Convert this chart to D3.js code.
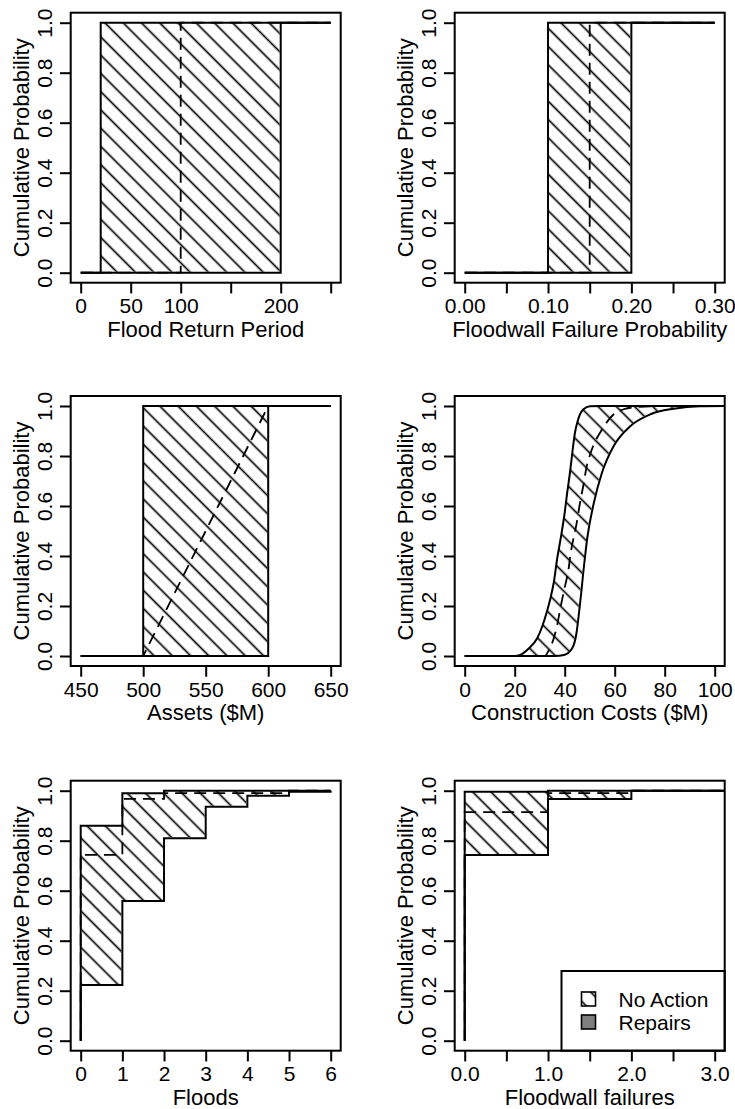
<!DOCTYPE html>
<html>
<head>
<meta charset="utf-8">
<script src="https://cdn.jsdelivr.net/npm/d3@7"></script>
<style>
body { margin: 0; background: #fff; }
svg { display: block; }
</style>
</head>
<body>
<svg id="chart" width="735" height="1109"></svg>
<script>
// step CDFs as [x, p] pairs (p holds from x onwards)
var returnUpper = [[0, 0], [20, 1], [250, 1]];
var returnLower = [[0, 0], [200, 1], [250, 1]];
var returnMid = [[0, 0], [100, 1], [250, 1]];

var wallUpper = [[0, 0], [0.10, 1], [0.30, 1]];
var wallLower = [[0, 0], [0.20, 1], [0.30, 1]];
var wallMid = [[0, 0], [0.15, 1], [0.30, 1]];

var assetsUpper = [[450, 0], [500, 1], [650, 1]];
var assetsLower = [[450, 0], [600, 1], [650, 1]];
var assetsMid = [[450, 0], [500, 0], [600, 1], [650, 1]];

// smooth CDFs for construction costs
var costUpper = [[0, 0], [20, 0], [22.2, 0.004], [25.7, 0.031], [29, 0.071], [31, 0.118],
    [32.7, 0.171], [34.3, 0.231], [35.7, 0.298], [37, 0.39], [38.3, 0.465], [39.8, 0.559],
    [41, 0.653], [42.1, 0.733], [43.2, 0.826], [44.1, 0.893], [45.4, 0.947], [47.5, 0.987],
    [50.1, 0.999], [54, 1], [104, 1]];
var costLower = [[0, 0], [36, 0], [39.7, 0.004], [43, 0.031], [44.7, 0.091], [45.7, 0.171],
    [46.6, 0.251], [47.4, 0.332], [48.3, 0.412], [49, 0.47], [49.8, 0.52], [51.6, 0.61],
    [54.9, 0.733], [59.6, 0.84], [66.3, 0.92], [74.3, 0.967], [83.6, 0.989], [94, 0.999], [104, 1]];
var costMid = [[0, 0], [32, 0], [33.5, 0.02], [35.4, 0.064], [37, 0.124], [38.4, 0.198],
    [40.1, 0.278], [41.5, 0.345], [42.4, 0.412], [43.4, 0.465], [44.8, 0.532], [46.1, 0.612],
    [47.4, 0.679], [48.8, 0.759], [50.3, 0.81], [52.3, 0.86], [54.9, 0.906], [58.9, 0.96],
    [63.6, 0.987], [70, 0.997], [80, 1], [104, 1]];

var floodsUpper = [[0, 0], [0, 0.86], [1, 0.99], [2, 1], [6, 1]];
var floodsLower = [[0, 0], [0, 0.223], [1, 0.559], [2, 0.81], [3, 0.936], [4, 0.98], [5, 0.996], [6, 1]];
var floodsMid = [[0, 0], [0, 0.743], [1, 0.967], [2, 0.99], [5, 1], [6, 1]];

var failUpper = [[0, 0], [0, 0.996], [1, 1], [3.12, 1]];
var failLower = [[0, 0], [0, 0.743], [1, 0.967], [2, 1], [3.12, 1]];
var failMid = [[0, 0], [0, 0.914], [1, 0.99], [2, 1], [3.12, 1]];

var probTicks = [0, 0.2, 0.4, 0.6, 0.8, 1];
var probLabels = ["0.0", "0.2", "0.4", "0.6", "0.8", "1.0"];

var legendLabels = ["No Action", "Repairs"];
var repairsColor = "#7f7f7f";

var font = "'Liberation Sans', Arial, sans-serif";

var panels = [
    {col: 0, row: 0, domain: [0, 250], ticks: [0, 50, 100, 150, 200, 250],
     labels: ["0", "50", "100", "", "200", ""], title: "Flood Return Period",
     upper: returnUpper, lower: returnLower, mid: returnMid, curve: d3.curveStepAfter, midCurve: d3.curveStepAfter},
    {col: 1, row: 0, domain: [0, 0.3], ticks: [0, 0.05, 0.1, 0.15, 0.2, 0.25, 0.3],
     labels: ["0.00", "", "0.10", "", "0.20", "", "0.30"], title: "Floodwall Failure Probability",
     upper: wallUpper, lower: wallLower, mid: wallMid, curve: d3.curveStepAfter, midCurve: d3.curveStepAfter},
    {col: 0, row: 1, domain: [450, 650], ticks: [450, 500, 550, 600, 650],
     labels: ["450", "500", "550", "600", "650"], title: "Assets ($M)",
     upper: assetsUpper, lower: assetsLower, mid: assetsMid, curve: d3.curveStepAfter, midCurve: d3.curveLinear},
    {col: 1, row: 1, domain: [0, 100], ticks: [0, 20, 40, 60, 80, 100],
     labels: ["0", "20", "40", "60", "80", "100"], title: "Construction Costs ($M)",
     upper: costUpper, lower: costLower, mid: costMid, curve: d3.curveMonotoneX, midCurve: d3.curveMonotoneX},
    {col: 0, row: 2, domain: [0, 6], ticks: [0, 1, 2, 3, 4, 5, 6],
     labels: ["0", "1", "2", "3", "4", "5", "6"], title: "Floods",
     upper: floodsUpper, lower: floodsLower, mid: floodsMid, curve: d3.curveStepAfter, midCurve: d3.curveStepAfter},
    {col: 1, row: 2, domain: [0, 3], ticks: [0, 0.5, 1, 1.5, 2, 2.5, 3],
     labels: ["0.0", "", "1.0", "", "2.0", "", "3.0"], title: "Floodwall failures",
     upper: failUpper, lower: failLower, mid: failMid, curve: d3.curveStepAfter, midCurve: d3.curveStepAfter, legend: true}
];

var boxLeft = [70.7, 454.7],
    boxTop = [12.7, 396, 780.7],
    boxSize = 270,
    pad = 10;

var svg = d3.select("#chart");
var defs = svg.append("defs");

var hatch = defs.append("pattern")
    .attr("id", "hatch")
    .attr("patternUnits", "userSpaceOnUse")
    .attr("width", 12.9)
    .attr("height", 12.9)
    .attr("patternTransform", "rotate(-45)");
hatch.append("line")
    .attr("x1", 6.45).attr("y1", -1)
    .attr("x2", 6.45).attr("y2", 14)
    .attr("stroke", "#000")
    .attr("stroke-width", 1.7);

panels.forEach(function(p, i) {
    var bx = boxLeft[p.col],
        by = boxTop[p.row];

    var x = d3.scaleLinear()
        .domain(p.domain)
        .range([bx + pad, bx + boxSize - pad]);

    var y = d3.scaleLinear()
        .domain([0, 1])
        .range([by + boxSize - pad, by + pad]);

    defs.append("clipPath")
        .attr("id", "clip" + i)
        .append("rect")
            .attr("x", bx).attr("y", by)
            .attr("width", boxSize).attr("height", boxSize);

    var area = d3.area()
        .x(function(d) { return x(d[0]); })
        .y0(y(0))
        .y1(function(d) { return y(d[1]); })
        .curve(p.curve);

    // hatched band = under upper CDF minus under lower CDF
    var mask = defs.append("mask")
        .attr("id", "band" + i)
        .attr("maskUnits", "userSpaceOnUse")
        .attr("x", 0).attr("y", 0).attr("width", 735).attr("height", 1109);
    mask.append("path").attr("d", area(p.upper)).attr("fill", "#fff");
    mask.append("path").attr("d", area(p.lower))
        .attr("fill", "#000")
        .attr("stroke", "#000")
        .attr("stroke-width", 2);

    var g = svg.append("g");
    var plot = g.append("g").attr("clip-path", "url(#clip" + i + ")");

    plot.append("rect")
        .attr("x", bx).attr("y", by)
        .attr("width", boxSize).attr("height", boxSize)
        .attr("fill", "url(#hatch)")
        .attr("mask", "url(#band" + i + ")");

    var line = d3.line()
        .x(function(d) { return x(d[0]); })
        .y(function(d) { return y(d[1]); });

    plot.append("path")
        .attr("d", line.curve(p.midCurve)(p.mid))
        .attr("fill", "none")
        .attr("stroke", "#000")
        .attr("stroke-width", 1.8)
        .attr("stroke-dasharray", "12,7");

    [p.upper, p.lower].forEach(function(cdf) {
        plot.append("path")
            .attr("d", line.curve(p.curve)(cdf))
            .attr("fill", "none")
            .attr("stroke", "#000")
            .attr("stroke-width", 2);
    });

    if (p.legend) {
        var lx = 561.5, ly = 971;
        g.append("rect")
            .attr("x", lx).attr("y", ly)
            .attr("width", bx + boxSize - lx).attr("height", by + boxSize - ly)
            .attr("fill", "#fff")
            .attr("stroke", "#000")
            .attr("stroke-width", 2);
        var items = g.selectAll("g.legend-item")
            .data(legendLabels)
            .enter()
            .append("g")
                .attr("class", "legend-item")
                .attr("transform", function(d, j) {
                    return "translate(" + [lx + 20, ly + 21 + j * 23] + ")";
                });
        items.append("rect")
            .attr("width", 14).attr("height", 14)
            .attr("fill", function(d, j) { return j === 0 ? "url(#hatch)" : repairsColor; })
            .attr("stroke", "#000")
            .attr("stroke-width", 1.6);
        items.append("text")
            .attr("x", 37).attr("y", 14.5)
            .attr("font-family", font)
            .attr("font-size", 21)
            .text(function(d) { return d; });
    }

    g.append("rect")
        .attr("x", bx).attr("y", by)
        .attr("width", boxSize).attr("height", boxSize)
        .attr("fill", "none")
        .attr("stroke", "#000")
        .attr("stroke-width", 2);

    var xAxis = g.append("g")
        .attr("transform", "translate(0," + (by + boxSize) + ")")
        .call(d3.axisBottom(x)
            .tickValues(p.ticks)
            .tickSize(10.7)
            .tickSizeOuter(0)
            .tickFormat(function(d, j) { return p.labels[j]; }));
    xAxis.select(".domain").remove();
    xAxis.attr("font-family", font).attr("font-size", 21);
    xAxis.selectAll("line").attr("stroke-width", 2);
    xAxis.selectAll("text").attr("y", 30.5).attr("dy", null).attr("fill", "#000");

    var yAxis = g.append("g")
        .attr("transform", "translate(" + bx + ",0)")
        .call(d3.axisLeft(y)
            .tickValues(probTicks)
            .tickSize(10.7)
            .tickSizeOuter(0)
            .tickFormat(function(d, j) { return probLabels[j]; }));
    yAxis.select(".domain").remove();
    yAxis.attr("font-family", font).attr("font-size", 21).attr("text-anchor", "middle");
    yAxis.selectAll("line").attr("stroke-width", 2);
    yAxis.selectAll("text")
        .attr("x", null).attr("dy", null)
        .attr("fill", "#000")
        .attr("transform", "translate(-19,0) rotate(-90)");

    g.append("text")
        .attr("x", bx + boxSize / 2)
        .attr("y", by + boxSize + 54)
        .attr("text-anchor", "middle")
        .attr("font-family", font)
        .attr("font-size", 22)
        .text(p.title);

    g.append("text")
        .attr("transform", "translate(" + (bx - 41.7) + "," + (by + boxSize / 2) + ") rotate(-90)")
        .attr("text-anchor", "middle")
        .attr("font-family", font)
        .attr("font-size", 22)
        .text("Cumulative Probability");
});
</script>
</body>
</html>
